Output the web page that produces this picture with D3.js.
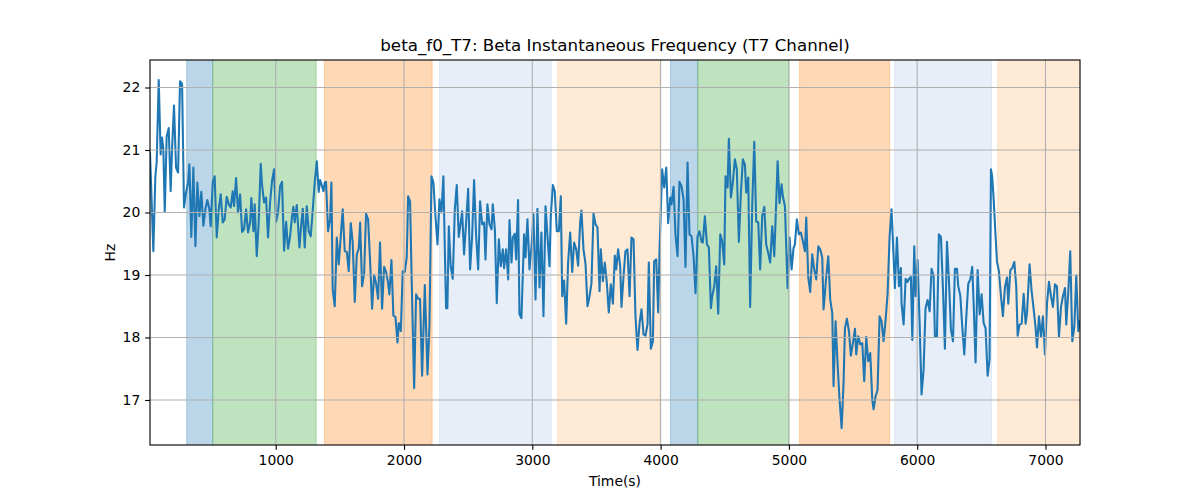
<!DOCTYPE html>
<html>
<head>
<meta charset="utf-8">
<script src="https://cdn.jsdelivr.net/npm/d3@7"></script>
<style>
  body { margin: 0; background: #fff; }
  svg { display: block; font-family: "DejaVu Sans", sans-serif; }
</style>
</head>
<body>
<svg id="chart" width="1200" height="500"></svg>
<script>
const chartTitle = "beta_f0_T7: Beta Instantaneous Frequency (T7 Channel)";
const xLabel = "Time(s)";
const yLabel = "Hz";
const xTicks = [1000, 2000, 3000, 4000, 5000, 6000, 7000];
const yTicks = [17, 18, 19, 20, 21, 22];
const xDomain = [20, 7269];
const yDomain = [16.28, 22.44];

const times = [
20,46,62,72,88,103,114,124,135,150,166,181,192,207,223,239,254,270,285,301,317,327,342,358,374,389,405,420,436,452,467,483,493,509,524,540,556,571,587,602,618,634,649,665,675,691,706,722,738,753,769,784,800,810,826,836,852,867,883,893,909,925,940,956,971,987,1003,1018,1034,1049,1065,1081,1096,1112,1127,1138,1148,1164,1185,1200,1211,1226,1242,1257,1273,1289,1304,1320,1335,1346,1361,1372,1382,1392,1408,1424,
1434,1444,1460,1476,1491,1507,1522,1538,1554,1569,1585,1600,1616,1632,1647,1658,1673,1689,1704,1720,1736,1751,1767,1782,1798,1813,1829,1845,1860,1876,1886,1902,1917,1933,1949,1959,1975,1990,2006,2021,2032,2047,2063,2079,2094,2110,2125,2141,2162,2183,2198,2214,2229,2245,2261,2276,2292,2307,2318,2328,2338,2349,2364,2380,2396,2411,2427,2442,2453,2468,2484,2500,2515,2531,2546,2562,2578,2593,2609,2624,2635,2650,2666,2682,2692,2708,2723,2739,2754,2770,2780,2796,2812,2822,2838,2848,2863,2874,2889,2900,2915,
2936,2947,2962,2978,2994,3009,3025,3040,3056,3071,3087,3103,3118,3134,3144,3160,3175,3191,3207,3222,3233,3248,3264,3279,3295,3311,3326,3342,3357,3373,3383,3399,3415,3430,3446,3461,3477,3493,3508,3524,3534,3550,3565,3581,3596,3612,3628,3643,3654,3669,3685,3695,3711,3726,3742,3758,3773,3789,3804,3820,3836,3851,3867,3882,3898,3908,3924,3940,3950,3966,3981,3992,4012,4028,4044,4059,4075,4085,4101,4116,4132,4147,4163,4179,4194,4210,4225,4241,4257,4272,4288,4303,4319,4329,4345,4361,4376,4392,
4402,4418,4433,4449,4465,4480,4496,4506,4522,4532,4548,4563,4579,4594,4610,4626,4641,4657,4667,4683,4698,4714,4730,4745,4761,4776,4792,4808,4823,4839,4854,4870,4886,4901,4912,4927,4943,4953,4969,4990,5005,5021,5036,5047,5062,5078,5093,5109,5125,5135,5151,5166,5182,5197,5213,5229,5244,5260,5270,5281,5291,5307,5322,5338,5348,5364,5379,5395,5411,5426,5437,5452,5468,5483,5499,5515,5525,5541,5556,5572,5587,5603,5618,5634,5650,5660,5676,5691,5707,5722,5738,5754,5769,5785,5800,5816,5826,5842,5858,5873,
5878,5894,5910,5925,5936,5951,5962,5977,5988,6003,6019,6034,6050,6065,6081,6097,6112,6128,6138,6154,6169,6185,6201,6216,6232,6247,6263,6279,6294,6310,6320,6336,6351,6367,6383,6398,6414,6429,6440,6455,6471,6487,6502,6518,6533,6549,6564,6575,6585,6596,6611,6622,6637,6653,6668,6684,6700,6710,6726,6741,6757,6772,6783,6798,6814,6830,6845,6856,6876,6892,6908,6923,6934,6949,6965,6980,6996,7012,7027,7043,7058,7074,7089,7105,7121,7136,7152,7162,7178,7193,7209,7225,7240,7256,7266
];

const freqHz = [
20.96,19.38,20.58,20.80,22.12,20.93,21.20,21.01,20.01,21.22,21.35,20.34,21.01,21.71,20.72,20.64,22.10,22.06,20.08,20.32,20.48,20.77,19.61,20.72,19.46,20.48,19.94,20.33,19.79,20.05,20.20,20.05,19.78,20.48,20.58,19.60,20.05,20.29,19.84,19.89,20.25,20.13,20.08,20.34,20.10,20.55,20.00,20.29,19.69,19.73,20.05,19.68,19.84,20.23,19.70,20.13,19.30,19.84,20.78,20.45,20.16,20.24,19.60,20.16,20.50,20.69,19.85,20.00,20.42,20.49,19.39,19.85,19.42,19.62,19.94,20.09,19.84,20.12,19.44,19.84,20.06,19.44,20.10,19.70,19.62,20.05,20.48,20.82,20.33,20.52,20.42,20.34,20.48,20.49,19.70,19.89,
20.48,18.77,18.50,19.60,19.17,19.62,20.05,19.38,19.37,19.06,19.83,19.52,18.57,19.33,19.42,19.84,18.82,19.03,19.98,19.89,19.20,18.46,19.00,18.87,18.62,19.52,18.46,19.13,19.05,18.87,18.69,19.24,18.35,18.33,17.92,18.23,18.10,19.06,19.05,19.28,20.26,20.18,18.61,17.19,18.69,18.62,18.62,17.39,18.84,17.41,18.18,20.58,20.48,19.94,19.49,20.21,20.00,20.58,19.41,18.47,18.47,19.78,19.14,18.94,20.05,20.44,19.61,19.84,20.02,19.33,19.84,20.38,19.09,19.62,20.52,19.62,19.09,20.18,19.81,19.84,19.25,20.13,19.81,19.73,20.13,19.73,18.55,19.57,19.14,19.41,19.11,19.41,18.93,19.88,19.20,19.60,19.66,19.25,20.20,18.37,18.31,
19.65,19.28,19.89,19.09,19.46,19.97,18.61,20.06,18.80,19.68,18.34,20.10,19.62,19.14,19.94,20.44,20.34,19.70,19.70,20.26,18.66,18.91,18.22,19.20,19.68,19.05,19.52,19.41,19.15,19.84,20.03,19.41,19.17,18.50,18.66,18.87,19.98,19.81,19.76,18.74,19.41,18.90,19.20,18.87,18.40,18.85,18.54,19.31,19.09,19.41,19.14,18.49,18.98,19.38,19.41,18.66,19.60,19.57,18.34,17.80,18.23,18.45,18.05,18.03,18.21,19.20,17.82,17.94,19.22,19.25,18.40,19.41,20.69,20.40,20.72,19.83,20.24,20.13,20.41,19.65,19.30,20.49,20.42,20.21,19.13,20.80,19.65,19.62,19.30,18.71,19.62,19.70,19.53,19.52,19.94,19.49,19.44,18.47,
18.66,18.82,19.14,18.38,19.65,19.54,19.17,20.58,20.40,21.18,20.24,20.48,20.85,20.69,19.53,20.32,20.85,20.77,20.32,20.56,18.49,20.10,21.13,19.86,19.84,19.09,19.94,20.09,19.49,19.35,19.20,19.78,19.30,20.16,20.82,20.15,20.45,20.26,20.10,18.79,19.60,19.09,19.43,19.49,19.89,19.65,19.68,19.54,19.38,19.92,18.96,18.73,19.33,19.09,18.93,19.46,19.41,19.28,18.45,18.71,18.98,19.30,18.61,18.39,17.22,18.26,17.59,17.00,16.55,17.27,18.15,18.30,18.10,17.71,17.91,18.14,17.73,18.02,17.89,17.91,17.30,18.01,17.62,17.75,17.00,16.85,17.06,17.16,18.34,18.26,17.94,18.29,18.69,19.62,20.05,19.30,18.79,19.60,18.82,19.11,
18.55,18.21,18.94,18.89,18.94,18.97,17.96,19.46,18.66,19.24,18.23,17.09,17.49,18.47,18.60,18.42,19.10,18.98,18.02,18.02,19.65,19.61,18.77,17.82,19.53,18.93,18.13,17.94,19.10,19.10,18.82,18.67,18.18,17.73,18.34,18.86,18.93,19.13,18.55,17.60,19.08,18.37,18.69,18.23,18.15,17.39,17.65,20.69,20.56,20.21,19.62,19.21,19.06,18.66,18.34,18.81,18.96,18.54,19.08,19.11,19.21,18.82,18.03,18.21,18.22,18.70,18.22,18.39,19.17,18.74,18.45,18.15,17.84,18.34,18.01,18.34,17.73,18.55,18.89,18.66,18.49,18.85,18.82,18.01,18.49,18.66,18.79,18.21,18.74,19.38,17.94,18.18,18.99,18.10,18.26
];

const spanStarts = [306, 509, 1380, 2276, 3196, 4077, 4290, 5083, 5824, 6627];
const spanEnds   = [509, 1315, 2219, 3147, 3994, 4290, 5000, 5785, 6580, 7300];
const spanColors = ["#1f77b4", "#2ca02c", "#ff7f0e", "#aec7e8", "#ffbb78", "#1f77b4", "#2ca02c", "#ff7f0e", "#aec7e8", "#ffbb78"];

const W = 1200, H = 500;
const margin = { left: 150, right: 120, top: 60, bottom: 55 };
const plotW = W - margin.left - margin.right;
const plotH = H - margin.top - margin.bottom;
const pt = 100 / 72;

const svg = d3.select("#chart");
const x = d3.scaleLinear().domain(xDomain).range([margin.left, margin.left + plotW]);
const y = d3.scaleLinear().domain(yDomain).range([margin.top + plotH, margin.top]);

svg.append("defs").append("clipPath").attr("id", "clip")
  .append("rect").attr("x", margin.left).attr("y", margin.top)
  .attr("width", plotW).attr("height", plotH);

const plot = svg.append("g").attr("clip-path", "url(#clip)");

// shaded spans
const spans = spanStarts.map((s, i) => ({ s, e: spanEnds[i], c: spanColors[i] }));
plot.selectAll("rect.span").data(spans).enter().append("rect")
  .attr("class", "span")
  .attr("x", d => x(d.s))
  .attr("width", d => x(d.e) - x(d.s))
  .attr("y", margin.top - 5)
  .attr("height", plotH + 10)
  .attr("fill", d => d.c).attr("fill-opacity", 0.3)
  .attr("stroke", d => d.c).attr("stroke-opacity", 0.3).attr("stroke-width", 1);

// grid
const grid = svg.append("g");
grid.selectAll("line.gx").data(xTicks).enter().append("line")
  .attr("x1", d => x(d)).attr("x2", d => x(d))
  .attr("y1", margin.top).attr("y2", margin.top + plotH)
  .attr("stroke", "#b0b0b0").attr("stroke-width", 0.8 * pt);
grid.selectAll("line.gy").data(yTicks).enter().append("line")
  .attr("y1", d => y(d)).attr("y2", d => y(d))
  .attr("x1", margin.left).attr("x2", margin.left + plotW)
  .attr("stroke", "#b0b0b0").attr("stroke-width", 0.8 * pt);

// line
const data = times.map((t, i) => ({ t, v: freqHz[i] }));
plot.append("path").datum(data)
  .attr("fill", "none").attr("stroke", "#1f77b4").attr("stroke-width", 1.5 * pt)
  .attr("stroke-linejoin", "round").attr("stroke-linecap", "square")
  .attr("d", d3.line().x(d => x(d.t)).y(d => y(d.v)));

// axes
const xAxis = d3.axisBottom(x).tickValues(xTicks).tickSize(3.5 * pt).tickPadding(3.5 * pt).tickFormat(d3.format("d"));
const yAxis = d3.axisLeft(y).tickValues(yTicks).tickSize(3.5 * pt).tickPadding(3.5 * pt).tickFormat(d3.format("d"));
const gx = svg.append("g").attr("transform", `translate(0,${margin.top + plotH})`).call(xAxis);
const gy = svg.append("g").attr("transform", `translate(${margin.left},0)`).call(yAxis);
[gx, gy].forEach(g => {
  g.select(".domain").remove();
  g.selectAll(".tick line").attr("stroke", "#000").attr("stroke-width", 0.8 * pt);
  g.selectAll(".tick text").attr("fill", "#000").style("font-size", "13.9px").style("font-family", "DejaVu Sans, sans-serif");
});

// frame
svg.append("rect").attr("x", margin.left).attr("y", margin.top)
  .attr("width", plotW).attr("height", plotH)
  .attr("fill", "none").attr("stroke", "#000").attr("stroke-width", 0.8 * pt);

// labels
svg.append("text").attr("x", margin.left + plotW / 2).attr("y", 51)
  .attr("text-anchor", "middle").style("font-size", "16.7px").attr("fill", "#000")
  .text(chartTitle);
svg.append("text").attr("x", margin.left + plotW / 2).attr("y", 486)
  .attr("text-anchor", "middle").style("font-size", "13.9px").attr("fill", "#000")
  .text(xLabel);
svg.append("text").attr("transform", `translate(115,${margin.top + plotH / 2}) rotate(-90)`)
  .attr("text-anchor", "middle").style("font-size", "13.9px").attr("fill", "#000")
  .text(yLabel);
</script>
</body>
</html>
